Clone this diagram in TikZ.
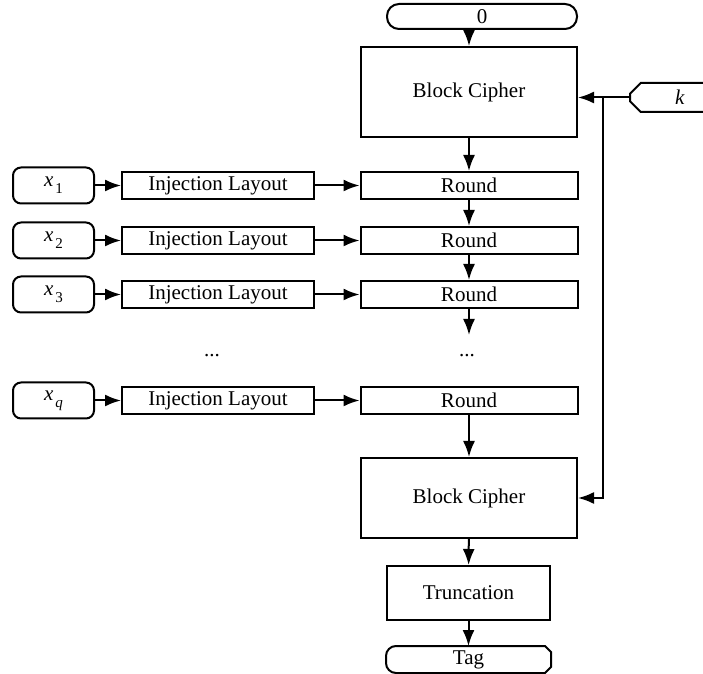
\documentclass[tikz,border=0pt]{standalone}
\usepackage{fontspec}
\setmainfont{Liberation Serif}
\usetikzlibrary{positioning}
\usetikzlibrary{arrows.meta}
\usetikzlibrary{shapes.misc}
\newcommand{\xin}[1]{\textit{x}\kern1pt\raisebox{-0.7ex}{\fontsize{7.5}{8}\selectfont #1}}

\begin{document}
\begin{tikzpicture} [x = 0.5pt, y = -0.5pt, line width = 1pt, font = \fontsize{10.5}{12}\selectfont,
    box/.style = {draw, rectangle, inner sep = 0pt},
    roundbox/.style = {box, minimum width = 108.5pt, minimum height = 13.5pt},
    inject/.style = {box, minimum width = 96pt, minimum height = 13.5pt},
    cipher/.style = {box, minimum width = 108pt},
    input/.style = {draw, rounded corners = 4pt, minimum width = 40.5pt, minimum height = 18pt, inner sep = 0pt},
    edge/.style = {-{Latex[length = 8pt, width = 6pt]}}]
        \useasboundingbox (0,0) rectangle (703,674);
        \node[input, rounded corners = 6pt, minimum width = 95pt, minimum height = 12.5pt] (zero) at (482,16.5) {0};
        \node[cipher, minimum height = 45pt] (BC1) at (469,92) {Block Cipher};
        \node[chamfered rectangle, chamfered rectangle corners = {north west, south west}, chamfered rectangle xsep = 3pt,
            draw, minimum width = 50pt, minimum height = 14.5pt, inner sep = 0pt] (k) at (680,97.5) {\textit{k}};
        \foreach \i/\s/\y in {1/1/185.5, 2/2/240.5, 3/3/294.5, q/\textit{q}/400.5} {
                \node[input] (x\i) at (53.5,\y) {\xin{\s}};
                \node[inject] (I\i) at (218,\y) {Injection Layout};
                \node[roundbox] (R\i) at (469,\y) {Round};
            }
        \node (dotsL) at (212,356) {...};
        \node (dotsR) at (467,356) {...};
        \coordinate (gap) at (469,335);
        \node[cipher, minimum height = 40pt] (BC2) at (469,498) {Block Cipher};
        \node[box, minimum width = 81.5pt, minimum height = 27pt] (trunc) at (468.5,593) {Truncation};
        \node[minimum width = 81.5pt, minimum height = 12.5pt, inner sep = 0pt] (tag) at (468.5,659.5) {Tag};
        \draw ([xshift = -3pt]tag.north east) [rounded corners = 5pt] -- (tag.north west) -- (tag.south west) [sharp corners]
            -- ([xshift = -3pt]tag.south east) -- ([yshift = 3pt]tag.south east) -- ([yshift = -3pt]tag.north east) -- cycle;
        \coordinate (bus) at (603,97.5);
        % data path
        \draw[edge] (zero.south -| BC1) -- (BC1.north);
        \draw[edge] (BC1) -- (R1);
        \foreach \i\j in {R1/R2, R2/R3, R3/gap, Rq/BC2, BC2/trunc, trunc/tag} {
                \draw[edge] (\i) -- (\j);
            }
        \foreach \i in {1, 2, 3, q} {
                \draw[edge] (x\i) -- (I\i);
                \draw[edge] (I\i) -- (R\i);
            }
        % key
        \draw[edge] (k.west) -- (k.west -| BC1.east);
        \draw[edge] (bus) |- (BC2.east);
    \end{tikzpicture}
\end{document}
